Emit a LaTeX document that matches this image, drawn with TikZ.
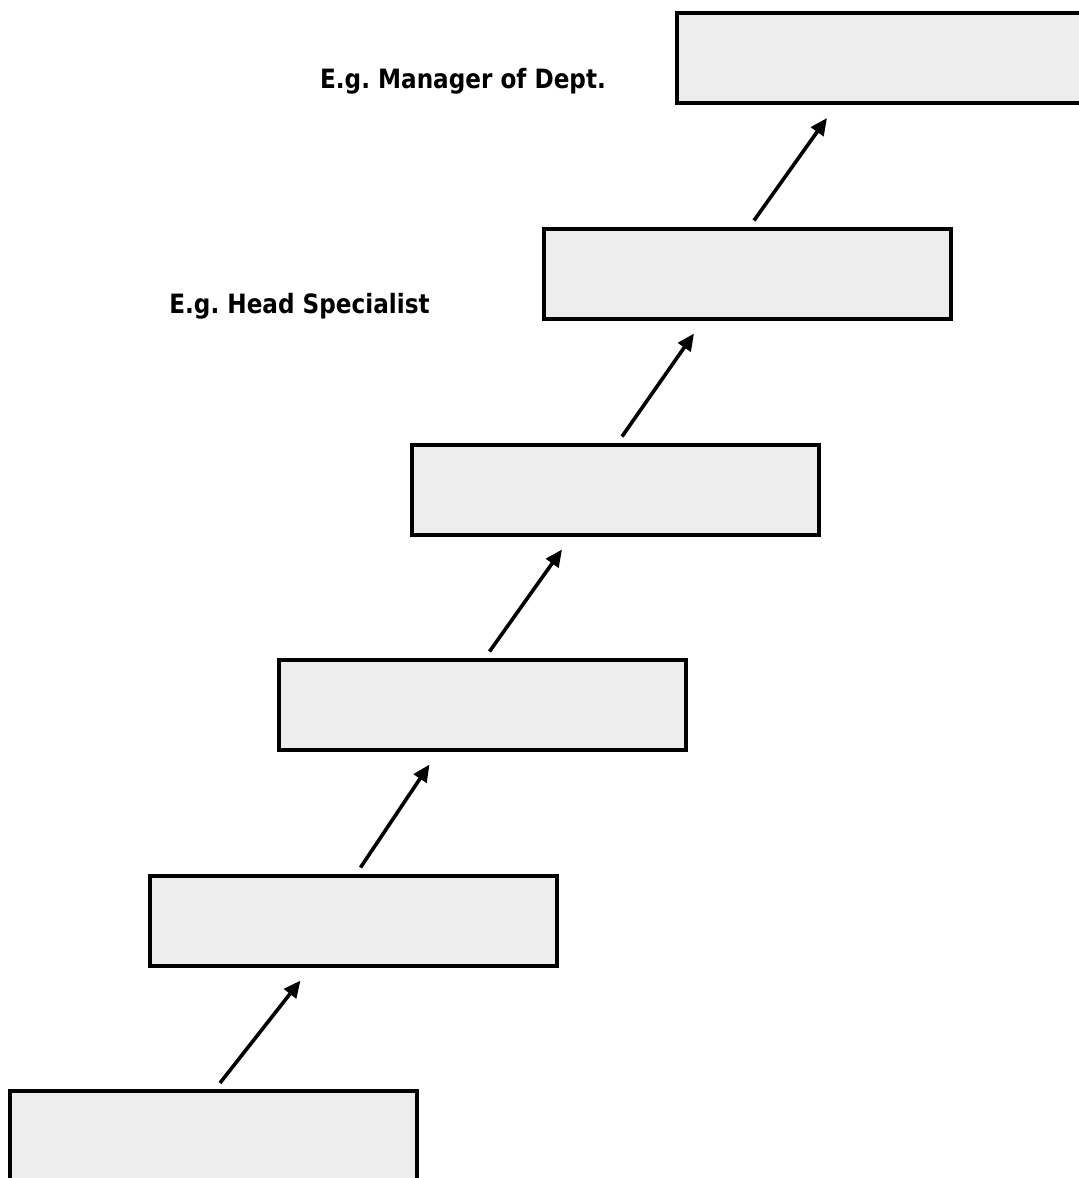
\documentclass[tikz,border=0pt]{standalone}
\usepackage{fontspec}
\setmainfont{DejaVu Sans}[FakeStretch=0.87]
\usetikzlibrary{arrows.meta}

\begin{document}
\begin{tikzpicture}[x=0.5pt,y=-0.5pt]

	\tikzstyle step box=[draw=black, fill=black!7, line width=2pt, minimum width=203.5pt, minimum height=45pt, inner sep=0pt];
	\tikzstyle step arrow=[line width=1.8pt, -{Triangle[length=8.5pt,width=7.5pt]}];
	\tikzstyle step label=[anchor=base, font=\fontsize{13.3}{15}\selectfont\bfseries\frenchspacing, inner sep=0pt];

	\useasboundingbox (0,0) rectangle (1078,1178);

	\foreach \n/\x/\y in {1/880/58,2/747/273.5,3/615/489.5,4/482.5/704.5,5/353.5/920.5,6/213/1136}
		\node[step box] (box\n) at (\x,\y) {};

	\foreach \lo/\hi in {6/5,5/4,4/3,3/2,2/1}
		\draw[step arrow] ([xshift=3.5pt,yshift=3pt]box\lo.north) -- ([xshift=-26.5pt,yshift=-6.5pt]box\hi.south);

	\node[step label] (manager) at (463,88) {E.g. Manager of Dept.};
	\node[step label] (head) at (299.5,313) {E.g. Head Specialist};

\end{tikzpicture}
\end{document}
